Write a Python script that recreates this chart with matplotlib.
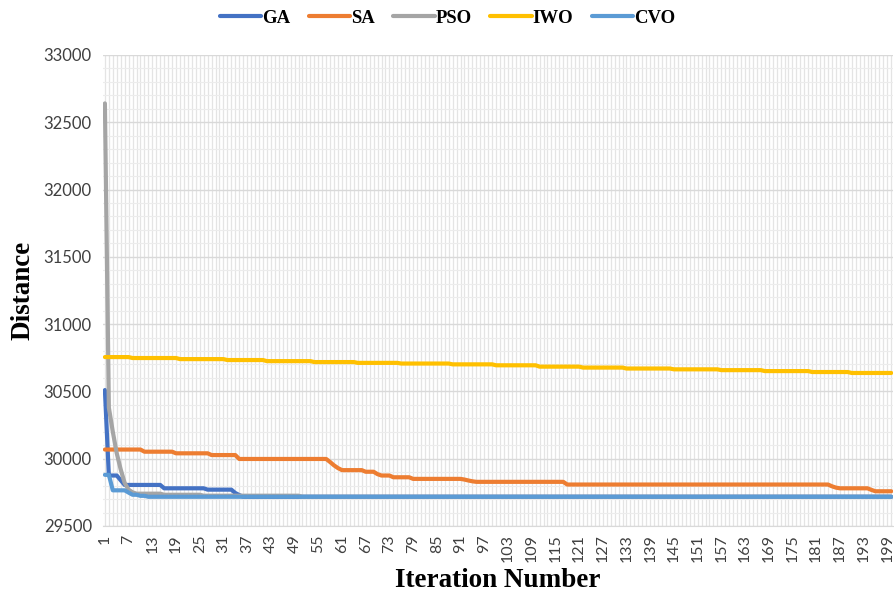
import numpy as np
import matplotlib
matplotlib.use("Agg")
import matplotlib.pyplot as plt
from matplotlib.ticker import MultipleLocator

# step values, with how many iterations each one lasts
ga_vals = [30510, 29875, 29840, 29805, 29780, 29770, 29745, 29730, 29717]
ga_runs = [1, 3, 1, 10, 11, 7, 1, 1, 165]

sa_vals = [30068, 30052, 30040, 30027, 29998, 29975, 29950, 29930, 29915, 29903,
           29885, 29875, 29862, 29850, 29845, 29838, 29832, 29828, 29808, 29795,
           29785, 29780, 29768, 29758]
sa_runs = [10, 8, 9, 7, 23, 1, 1, 1, 6, 3,
           1, 3, 5, 13, 1, 1, 1, 23, 67, 1,
           1, 8, 1, 5]

pso_vals = [32640, 30380, 30200, 30040, 29920, 29820, 29770, 29750, 29740, 29732,
            29725, 29717]
pso_runs = [1, 1, 1, 1, 1, 1, 1, 1, 7, 10, 25, 150]

iwo_vals = [30755, 30748, 30740, 30733, 30725, 30718, 30712, 30707, 30701, 30694,
            30684, 30677, 30670, 30664, 30658, 30651, 30644, 30637]
iwo_runs = [7, 12, 12, 10, 12, 11, 11, 13, 11, 11,
            11, 11, 12, 12, 11, 12, 10, 11]

cvo_vals = [29880, 29765, 29748, 29732, 29724, 29717]
cvo_runs = [2, 4, 1, 2, 2, 189]

names = ["GA", "SA", "PSO", "IWO", "CVO"]
colors = ["#4472C4", "#ED7D31", "#A5A5A5", "#FFC000", "#5B9BD5"]

series = [np.repeat(ga_vals, ga_runs), np.repeat(sa_vals, sa_runs),
          np.repeat(pso_vals, pso_runs), np.repeat(iwo_vals, iwo_runs),
          np.repeat(cvo_vals, cvo_runs)]
iters = np.arange(1, 201)

fig = plt.figure(figsize=(8.95, 5.94), dpi=100)
ax = fig.add_axes([0.115, 0.1145, 0.883, 0.793])

for y, c, n in zip(series, colors, names):
    ax.plot(iters, y, color=c, lw=3, label=n, solid_capstyle="round", zorder=3)

ax.set_xlim(0.5, 200.5)
ax.set_ylim(29500, 33000)
ax.set_xticks(np.arange(1, 201, 6))
ax.xaxis.set_minor_locator(MultipleLocator(1))
ax.yaxis.set_major_locator(MultipleLocator(500))
ax.yaxis.set_minor_locator(MultipleLocator(100))
ax.grid(which="major", axis="y", color="#d9d9d9", lw=1.0, zorder=0)
ax.grid(which="minor", axis="y", color="#ececec", lw=0.8, zorder=0)
ax.grid(which="both", axis="x", color="#e4e4e4", lw=0.9, zorder=0)
ax.tick_params(which="both", length=0)
ax.tick_params(axis="x", labelrotation=90, labelsize=11.5, labelcolor="#404040", pad=6)
ax.tick_params(axis="y", labelsize=12, labelcolor="#404040", pad=8)
for lab in ax.get_xticklabels() + ax.get_yticklabels():
    lab.set_fontfamily("Lato")

for s in ["top", "right", "left"]:
    ax.spines[s].set_visible(False)
ax.spines["bottom"].set_color("#d9d9d9")

ax.set_xlabel("Iteration Number", fontsize=19.5, fontweight="bold",
              family="Liberation Serif", labelpad=4)
ax.set_ylabel("Distance", fontsize=19.5, fontweight="bold",
              family="Liberation Serif", labelpad=6)

fig.legend(loc="upper center", bbox_to_anchor=(0.5, 1.012), ncol=5, frameon=False,
           handlelength=2.2, columnspacing=1.0, handletextpad=0.05,
           prop={"family": "Liberation Serif", "weight": "bold", "size": 13.5})

fig.savefig("out.png", dpi=100)
